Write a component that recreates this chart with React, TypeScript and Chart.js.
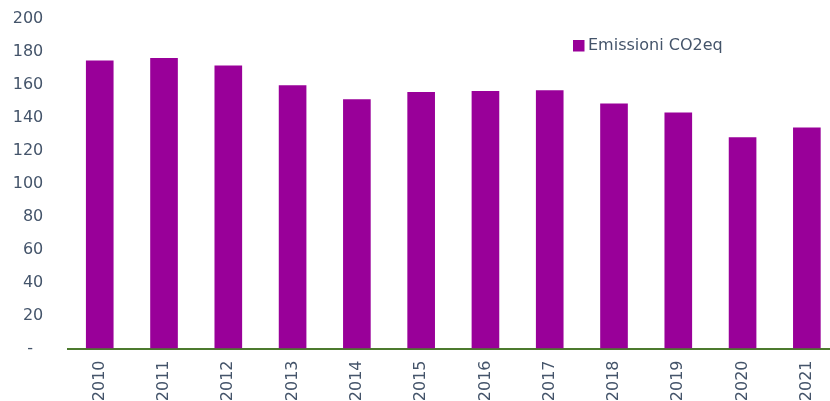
import React, { useEffect, useRef } from "react";
import { Chart, registerables } from "chart.js";

Chart.register(...registerables);

const categories = ["2010", "2011", "2012", "2013", "2014", "2015", "2016", "2017", "2018", "2019", "2020", "2021"];
const emissions = [174.5, 176, 171.5, 159.5, 151, 155.5, 156, 156.5, 148.5, 143, 128, 134];
const seriesLabel = "Emissioni CO2eq";
const yTicks = [0, 20, 40, 60, 80, 100, 120, 140, 160, 180, 200];

const BAR_COLOR = "#990099";
const TEXT_COLOR = "#44546A";
const FONT = "'DejaVu Sans', sans-serif";

const legendPlugin = {
  id: "insideLegend",
  afterDraw(chart: any) {
    const ctx = chart.ctx;
    const ds = chart.data.datasets[0];
    ctx.save();
    const x = 573;
    const y = 46;
    ctx.fillStyle = ds.backgroundColor;
    ctx.fillRect(x, y - 6, 11.5, 11.5);
    ctx.fillStyle = TEXT_COLOR;
    ctx.font = "16px " + FONT;
    ctx.textBaseline = "middle";
    ctx.textAlign = "left";
    ctx.fillText(ds.label, x + 15, y);
    ctx.restore();
  },
};

export default function App() {
  const ref = useRef<HTMLCanvasElement>(null);
  useEffect(() => {
    if (!ref.current) return;
    const chart = new Chart(ref.current, {
      type: "bar",
      data: {
        labels: categories,
        datasets: [
          {
            label: seriesLabel,
            data: emissions,
            backgroundColor: BAR_COLOR,
            borderWidth: 0,
            barPercentage: 0.43,
            categoryPercentage: 1,
          },
        ],
      },
      options: {
        animation: false,
        responsive: false,
        maintainAspectRatio: false,
        layout: { padding: { left: 0, top: 18.5, right: 0, bottom: 0 } },
        plugins: { legend: { display: false }, tooltip: { enabled: false } },
        scales: {
          x: {
            grid: { display: false, drawTicks: false },
            border: { display: true, color: "#4C7A2E", width: 2 },
            ticks: {
              color: TEXT_COLOR,
              font: { family: FONT, size: 16 },
              minRotation: 90,
              maxRotation: 90,
              padding: 12,
              autoSkip: false,
            },
            afterFit: (axis: any) => {
              axis.height = 52.5;
              axis.paddingLeft = 0;
              axis.paddingRight = 0;
            },
          },
          y: {
            min: 0,
            max: 200,
            grid: { display: false, drawTicks: false },
            border: { display: false },
            afterBuildTicks: (axis: any) => {
              axis.ticks = yTicks.map((v) => ({ value: v }));
            },
            ticks: {
              color: TEXT_COLOR,
              font: { family: FONT, size: 16 },
              padding: 24.3,
              callback: (v: any) => (Number(v) === 0 ? "-  " : String(v)),
            },
            afterFit: (axis: any) => {
              axis.width = 67.6;
              axis.paddingTop = 0;
              axis.paddingBottom = 0;
            },
          },
        },
      },
      plugins: [legendPlugin],
    });
    return () => chart.destroy();
  }, []);
  return (
    <div style={{ position: "fixed", left: 0, top: 0, width: 830, height: 401, overflow: "hidden", background: "#fff" }}>
      <canvas ref={ref} width={839} height={401} style={{ display: "block" }} />
    </div>
  );
}
